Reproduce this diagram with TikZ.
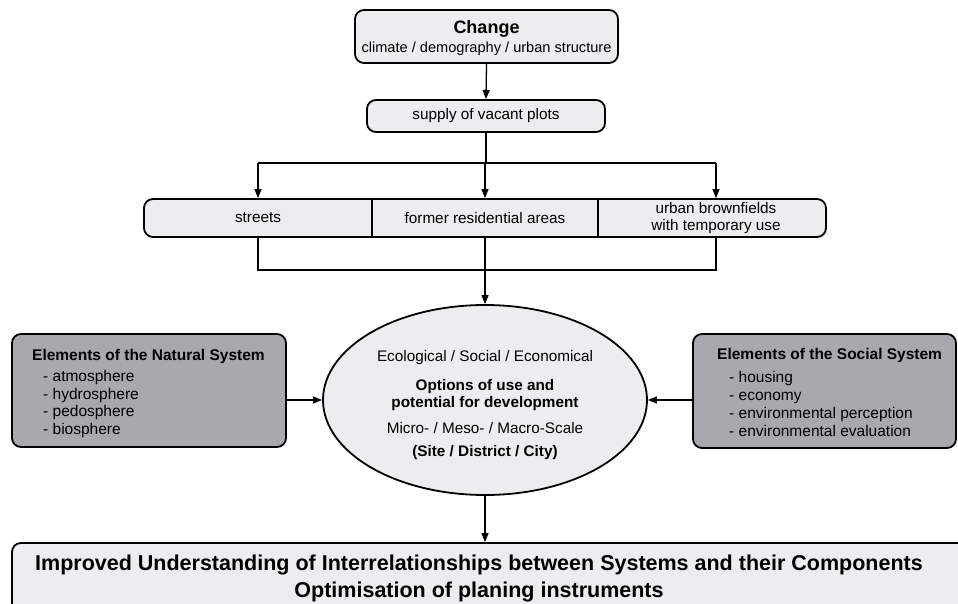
\documentclass[tikz,border=0pt]{standalone}
\usepackage{fontspec}
\setmainfont{Liberation Sans}
\usetikzlibrary{arrows.meta,shapes.geometric}
\definecolor{lightfill}{HTML}{EDEDF0}
\definecolor{grayfill}{HTML}{A8A9AD}
\begin{document}
\begin{tikzpicture}[x=1pt,y=-1pt,
  box/.style={draw, line width=1.8pt, rounded corners=9pt, fill=lightfill, inner sep=0pt},
  graybox/.style={draw, line width=1.8pt, rounded corners=9pt, fill=grayfill, inner sep=0pt},
  ellbox/.style={draw, line width=1.8pt, ellipse, fill=lightfill, inner sep=0pt},
  conn/.style={line width=1.3pt},
  arr/.style={conn, -{Triangle[length=9pt,width=7pt]}},
  txt/.style={inner sep=0pt, align=center, font=\fontsize{15.3}{16.5}\selectfont},
  btxt/.style={inner sep=0pt, align=center, font=\fontsize{15.3}{16.5}\selectfont\bfseries},
  ltxt/.style={inner sep=0pt, align=left, font=\fontsize{15.5}{17.7}\selectfont},
  ttl/.style={inner sep=0pt, align=left, font=\fontsize{15.5}{17}\selectfont\bfseries},
  big/.style={inner sep=0pt, font=\fontsize{21.5}{23}\selectfont\bfseries},
]
\useasboundingbox (0,0) rectangle (958,604);

% top boxes
\node[box, minimum width=263pt, minimum height=53pt] (change) at (486.5,36.5) {};
\node[txt, font=\fontsize{18}{20}\selectfont\bfseries] (changet) at (486.5,29) {Change};
\node[txt, font=\fontsize{14.6}{16}\selectfont] (changes) at (486.5,49) {climate / demography / urban structure};

\node[box, minimum width=238pt, minimum height=32pt] (supply) at (486,116) {};
\node[txt] (supplyt) at (486,116) {supply of vacant plots};

% row of three cells
\node[box, minimum width=682pt, minimum height=38pt] (row) at (485,218) {};
\draw[line width=1.3pt] (372,199) -- (372,237) (598,199) -- (598,237);
\node[txt] (streets) at (258,218) {streets};
\node[txt] (former) at (485,218) {former residential areas};
\node[txt] (brown) at (716,218) {urban brownfields\\with temporary use};

\coordinate (split) at (486,163);
\coordinate (join) at (485,270);

\draw[conn] (supply.south) -- (split);
\draw[conn] (streets |- split) -- (brown |- split);
\draw[arr] (streets |- split) -- (streets |- row.north);
\draw[arr] (former |- split) -- (former |- row.north);
\draw[arr] (brown |- split) -- (brown |- row.north);
\draw[arr] (change.south) -- (supply.north);

% central ellipse
\node[ellbox, minimum width=324pt, minimum height=190pt] (ell) at (485,400) {};
\node[txt] (eco) at (485,358) {Ecological / Social / Economical};
\node[btxt] (opt) at (485,395) {Options of use and\\potential for development};
\node[txt] (micro) at (485,428) {Micro- / Meso- / Macro-Scale};
\node[btxt] (site) at (485,453) {(Site / District / City)};

\draw[conn] (streets |- row.south) -- (streets |- join) -- (brown |- join) -- (brown |- row.south);
\draw[arr] (former |- row.south) -- (ell.north);

% side boxes
\node[graybox, minimum width=274pt, minimum height=113pt] (nat) at (149,390.5) {};
\node[ttl, anchor=west] (natt) at (32,356) {Elements of the Natural System};
\node[ltxt, anchor=west] (natl) at (43,404) {- atmosphere\\- hydrosphere\\- pedosphere\\- biosphere};

\node[graybox, minimum width=263pt, minimum height=114pt] (soc) at (824.5,391) {};
\node[ttl, anchor=west] (soct) at (717,355) {Elements of the Social System};
\node[ltxt, anchor=west] (socl) at (729,404) {- housing\\- economy\\- environmental perception\\- environmental evaluation};

\draw[arr] (nat.east |- ell.west) -- (ell.west);
\draw[arr] (soc.west |- ell.east) -- (ell.east);

% bottom box
\node[box, minimum width=963pt, minimum height=77pt] (bottom) at (493.5,581.5) {};
\node[big] (b1) at (479,565) {Improved Understanding of Interrelationships between Systems and their Components};
\node[big] (b2) at (479,592) {Optimisation of planing instruments};

\draw[arr] (ell.south) -- (ell.south |- bottom.north);
\end{tikzpicture}
\end{document}
